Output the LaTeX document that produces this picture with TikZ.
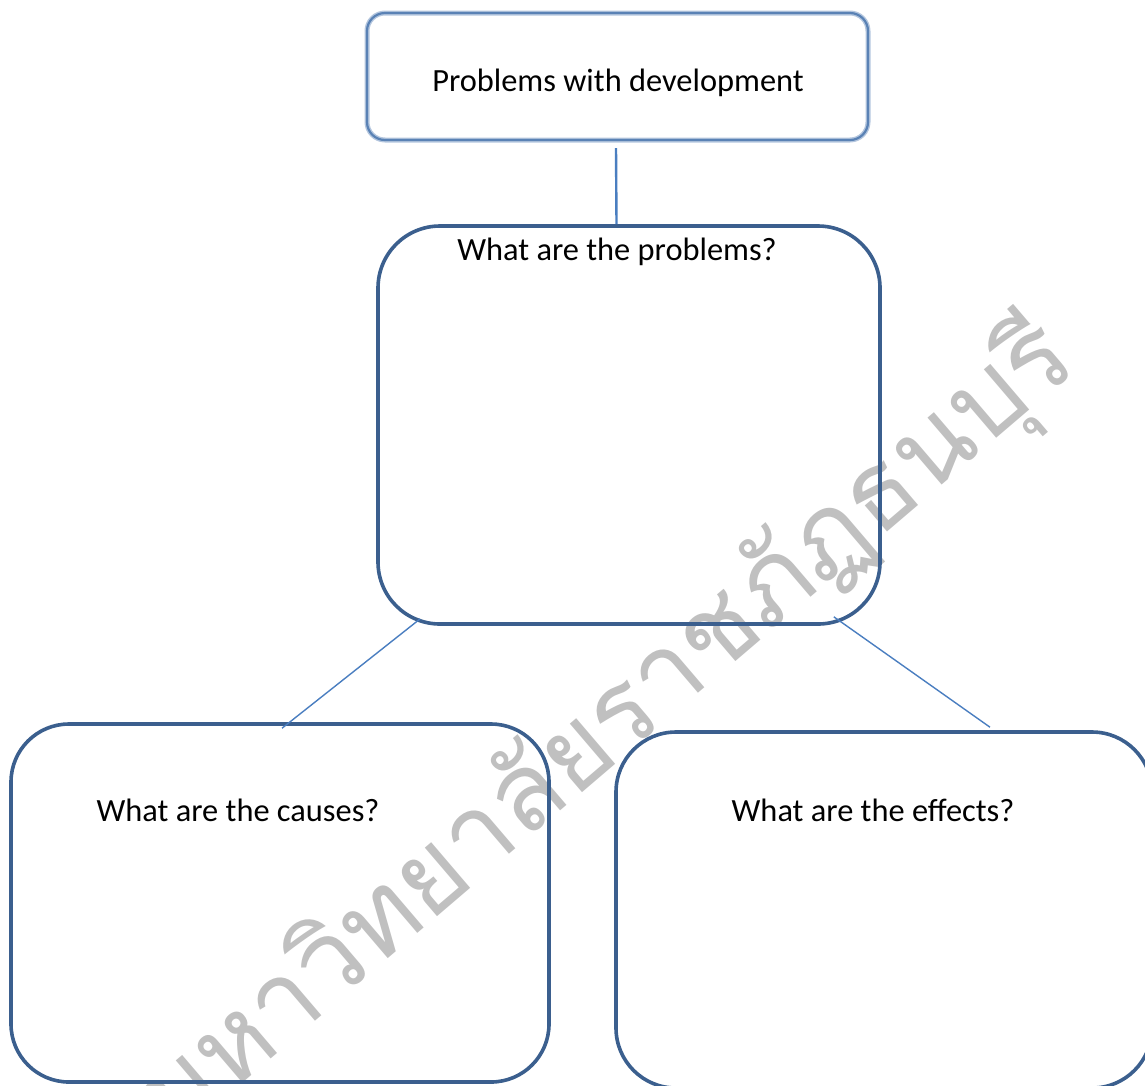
\documentclass[tikz,border=0pt]{standalone}
\usepackage{fontspec}
\setmainfont{Carlito}
\newfontfamily\thaifont[Script=Thai]{Loma}
\usetikzlibrary{calc}
\definecolor{boxblue}{HTML}{3B5F8E}
\definecolor{topblue}{HTML}{5A82B5}
\definecolor{topglow}{HTML}{B4C6DE}
\definecolor{linkblue}{HTML}{4A7EC0}
\definecolor{wmgray}{HTML}{C0C0C0}
\tikzset{
  bigbox/.style={draw=boxblue, line width=3.6pt, fill=none, rectangle, inner sep=0pt},
  topbox/.style={draw=topblue, line width=2.2pt, rectangle, inner sep=0pt, rounded corners=18pt,
     preaction={draw=topglow, line width=5pt}},
  link/.style={draw=linkblue, line width=1.4pt},
  vlink/.style={draw=linkblue, line width=2.4pt},
  lbl/.style={font=\fontsize{32.4}{36}\selectfont, text=black, inner sep=0pt},
  wm/.style={font=\thaifont\fontsize{108}{116}\selectfont, text=wmgray, inner sep=0pt}
}
\begin{document}
\begin{tikzpicture}[x=1pt,y=-1pt]
\useasboundingbox (0,0) rectangle (1145,1085);
% watermark
\node[wm, rotate=40.5] (wmark) at (607,730) {มหาวิทยาลัยราชภัฏธนบุรี};
% boxes
\node[topbox, minimum width=501pt, minimum height=127pt] (top) at (617.5,76.5) {};
\node[bigbox, rounded corners=62pt, minimum width=502pt, minimum height=398pt] (mid) at (629,425) {};
\node[bigbox, rounded corners=58pt, minimum width=538pt, minimum height=358pt] (left) at (280,903) {};
\node[bigbox, rounded corners=60pt, minimum width=536pt, minimum height=356pt] (right) at (884,910) {};
% texts
\node[lbl] (ttop) at (618,83) {Problems with development};
\node[lbl] (tmid) at (617,252) {What are the problems?};
\node[lbl] (tleft) at (238,810) {What are the causes?};
\node[lbl] (tright) at (873,810) {What are the effects?};
% connectors
\draw[vlink] ($(top.south)+(-1.5,7)$) -- ($(mid.north)+(-12.5,0)$);
\draw[link] ($(mid.south west)+(44,-7)$) -- ($(left.north)+(2,6)$);
\draw[link] ($(mid.south east)+(-48,-9)$) -- ($(right.north)+(106,-3)$);
\end{tikzpicture}
\end{document}
